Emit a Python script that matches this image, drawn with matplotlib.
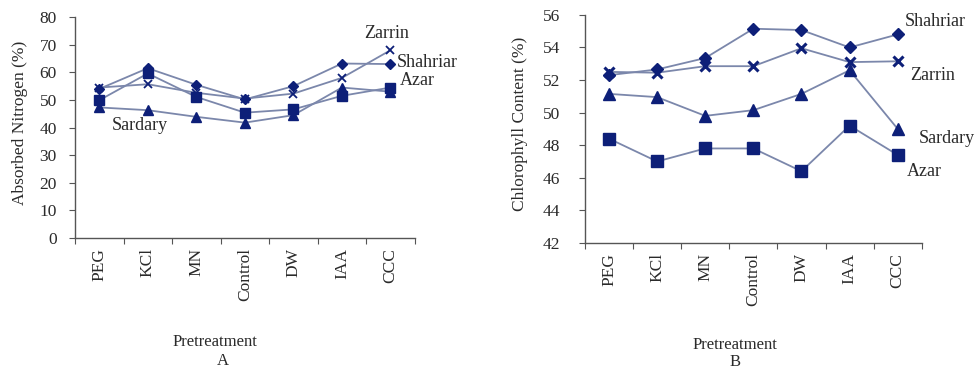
import numpy as np
import matplotlib.pyplot as plt

plt.rcParams['font.family'] = ['Liberation Serif', 'DejaVu Serif']

treatments = ['PEG', 'KCl', 'MN', 'Control', 'DW', 'IAA', 'CCC']

# absorbed nitrogen (%)
n_shahriar = [54.0, 61.5, 55.5, 50.2, 55.0, 63.2, 63.0]
n_zarrin = [54.5, 55.7, 52.6, 50.5, 52.3, 58.0, 68.0]
n_azar = [49.9, 59.6, 51.1, 45.4, 46.6, 51.5, 54.5]
n_sardary = [47.3, 46.3, 43.9, 41.8, 44.5, 54.5, 53.0]

# chlorophyll content (%)
c_shahriar = [52.3, 52.65, 53.35, 55.15, 55.07, 54.0, 54.8]
c_zarrin = [52.5, 52.45, 52.85, 52.85, 53.95, 53.1, 53.15]
c_sardary = [51.15, 50.95, 49.8, 50.15, 51.15, 52.6, 49.0]
c_azar = [48.4, 47.0, 47.8, 47.8, 46.4, 49.2, 47.4]

line_col = '#7b87ab'
mark_col = '#0d1f78'
text_col = '#2a2a2a'
spine_col = '#555555'

fig = plt.figure(figsize=(9.79, 3.72), dpi=100)
ax1 = fig.add_axes([0.0766, 0.360, 0.347, 0.594])
ax2 = fig.add_axes([0.5975, 0.347, 0.344, 0.613])

x = np.arange(len(treatments))


def style_axis(ax, ylim, yticks, ypad):
    ax.set_xlim(-0.5, len(treatments) - 0.5)
    ax.set_ylim(*ylim)
    ax.set_yticks(yticks)
    ax.set_xticks(np.arange(-0.5, len(treatments)), minor=False)
    ax.set_xticklabels([])
    ax.set_xticks(x, minor=True)
    ax.set_xticklabels(treatments, minor=True, rotation=90, va='top', ha='center')
    ax.tick_params(axis='x', which='minor', length=0, pad=7, labelsize=12.5,
                   labelcolor=text_col)
    ax.tick_params(axis='x', which='major', length=4, color=spine_col)
    ax.tick_params(axis='y', length=4, color=spine_col, labelsize=12.5,
                   labelcolor=text_col, pad=ypad)
    for s in ['top', 'right']:
        ax.spines[s].set_visible(False)
    for s in ['left', 'bottom']:
        ax.spines[s].set_color(spine_col)
        ax.spines[s].set_linewidth(1.0)


def draw(ax, y, marker, ms, mew=1.0):
    ax.plot(x, y, color=line_col, lw=1.3, zorder=2)
    ax.plot(x, y, linestyle='none', marker=marker, ms=ms, color=mark_col,
            mec=mark_col, mew=mew, zorder=3, clip_on=False)


# panel A
style_axis(ax1, (0, 80), np.arange(0, 81, 10), ypad=9)
draw(ax1, n_sardary, '^', 6.5)
draw(ax1, n_azar, 's', 6.5)
draw(ax1, n_zarrin, 'x', 6, mew=1.3)
draw(ax1, n_shahriar, 'D', 5.5)
ax1.set_ylabel('Absorbed Nitrogen (%)', fontsize=12.5, color=text_col)
ax1.yaxis.set_label_coords(-0.138, 0.52)

lab = dict(fontsize=13, color=text_col, clip_on=False)
ax1.text(5.92, 74.2, 'Zarrin', ha='center', va='center', **lab)
ax1.text(6.13, 63.5, 'Shahriar', ha='left', va='center', **lab)
ax1.text(6.19, 57.2, 'Azar', ha='left', va='center', **lab)
ax1.text(0.84, 40.9, 'Sardary', ha='center', va='center', **lab)

# panel B
style_axis(ax2, (42, 56), np.arange(42, 57, 2), ypad=14)
draw(ax2, c_azar, 's', 8.5)
draw(ax2, c_sardary, '^', 8)
draw(ax2, c_zarrin, 'x', 7.5, mew=2.2)
draw(ax2, c_shahriar, 'D', 6.5)
ax2.set_ylabel('Chlorophyll Content (%)', fontsize=12.5, color=text_col)
ax2.yaxis.set_label_coords(-0.169, 0.52)

ax2.text(6.15, 55.57, 'Shahriar', ha='left', va='center', **lab)
ax2.text(6.25, 52.25, 'Zarrin', ha='left', va='center', **lab)
ax2.text(6.44, 48.4, 'Sardary', ha='left', va='center', **lab)
ax2.text(6.19, 46.36, 'Azar', ha='left', va='center', **lab)

# x-axis titles and panel letters
fig.text(215 / 979, 1 - 342 / 372, 'Pretreatment', ha='center', va='center',
         fontsize=12, color=text_col)
fig.text(223 / 979, 1 - 361 / 372, 'A', ha='center', va='center',
         fontsize=12, color=text_col)
fig.text(735 / 979, 1 - 345 / 372, 'Pretreatment', ha='center', va='center',
         fontsize=12, color=text_col)
fig.text(735 / 979, 1 - 362 / 372, 'B', ha='center', va='center',
         fontsize=12, color=text_col)

fig.savefig('out.png', dpi=100)
